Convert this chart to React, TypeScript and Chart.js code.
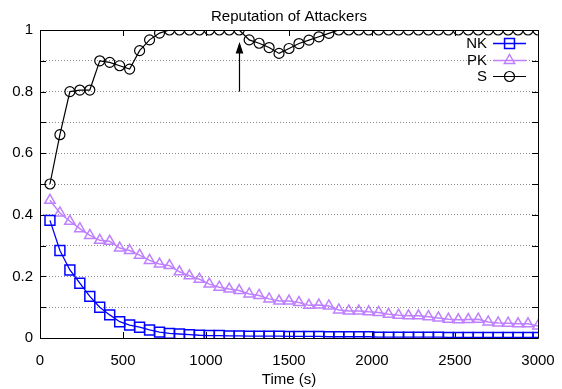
import React, { useEffect, useRef } from "react";
import { Chart, registerables } from "chart.js";

Chart.register(...registerables);

const times = [
  60, 120, 180, 240, 300, 360, 420, 480, 540, 600,
  660, 720, 780, 840, 900, 960, 1020, 1080, 1140, 1200,
  1260, 1320, 1380, 1440, 1500, 1560, 1620, 1680, 1740, 1800,
  1860, 1920, 1980, 2040, 2100, 2160, 2220, 2280, 2340, 2400,
  2460, 2520, 2580, 2640, 2700, 2760, 2820, 2880, 2940, 3000,
];

const nkValues = [
  0.382, 0.284, 0.221, 0.178, 0.135, 0.100, 0.075, 0.053, 0.042, 0.035,
  0.026, 0.019, 0.015, 0.013, 0.011, 0.009, 0.008, 0.008, 0.007, 0.007,
  0.006, 0.006, 0.006, 0.006, 0.005, 0.005, 0.005, 0.005, 0.004, 0.004,
  0.004, 0.004, 0.004, 0.003, 0.003, 0.003, 0.003, 0.003, 0.003, 0.003,
  0.002, 0.002, 0.002, 0.002, 0.002, 0.002, 0.002, 0.002, 0.002, 0.002,
];

const pkValues = [
  0.447, 0.406, 0.379, 0.355, 0.333, 0.317, 0.314, 0.292, 0.284, 0.269,
  0.252, 0.240, 0.235, 0.215, 0.202, 0.191, 0.175, 0.165, 0.159, 0.154,
  0.143, 0.138, 0.127, 0.120, 0.120, 0.115, 0.106, 0.107, 0.104, 0.091,
  0.088, 0.088, 0.085, 0.083, 0.077, 0.074, 0.072, 0.072, 0.069, 0.065,
  0.061, 0.059, 0.060, 0.061, 0.052, 0.049, 0.048, 0.046, 0.046, 0.039,
];

const sValues = [
  0.50, 0.66, 0.80, 0.805, 0.805, 0.90, 0.895, 0.884, 0.873, 0.933,
  0.968, 0.99, 1.0, 1.0, 1.0, 1.0, 1.0, 1.0, 1.0, 1.0,
  0.968, 0.957, 0.943, 0.924, 0.940, 0.956, 0.967, 0.978, 0.989, 1.0,
  1.0, 1.0, 1.0, 1.0, 1.0, 1.0, 1.0, 1.0, 1.0, 1.0,
  1.0, 1.0, 1.0, 1.0, 1.0, 1.0, 1.0, 1.0, 1.0, 1.0,
];

const seriesNames = ["NK", "PK", "S"];
const seriesColors = ["#0000ff", "#bf80ff", "#000000"];
const xTickValues = [0, 500, 1000, 1500, 2000, 2500, 3000];
const yTickLabels = ["0", "0.2", "0.4", "0.6", "0.8", "1"];
const titleText = "Reputation of Attackers";
const xAxisTitle = "Time (s)";
const arrowAt = { x: 1200, fromY: 0.8, toY: 0.955 };

const FONT = "'Liberation Sans', Arial, sans-serif";

function drawMarker(ctx: CanvasRenderingContext2D, style: string, x: number, y: number, r: number) {
  ctx.beginPath();
  if (style === "rect") {
    const s = Math.SQRT1_2 * r;
    ctx.rect(x - s, y - s, 2 * s, 2 * s);
  } else if (style === "triangle") {
    ctx.moveTo(x, y - r);
    ctx.lineTo(x + r * 0.866, y + r * 0.5);
    ctx.lineTo(x - r * 0.866, y + r * 0.5);
    ctx.closePath();
  } else {
    ctx.arc(x, y, r, 0, Math.PI * 2);
  }
  ctx.stroke();
}

const gnuplotPlugin = {
  id: "gnuplotDecor",
  beforeDatasetsDraw(chart: any) {
    const { ctx, chartArea } = chart;
    const { left, right, top, bottom } = chartArea;
    const xs = chart.scales.x;
    const ys = chart.scales.y;
    ctx.save();
    ctx.strokeStyle = "#000";
    ctx.lineWidth = 1;
    ctx.beginPath();
    ctx.rect(Math.round(left) + 0.5, Math.round(top) + 0.5, Math.round(right - left), Math.round(bottom - top));
    ctx.stroke();
    const tl = 6;
    ctx.beginPath();
    for (let i = 0; i <= 10; i++) {
      const y = Math.round(ys.getPixelForValue(i / 10)) + 0.5;
      ctx.moveTo(left, y);
      ctx.lineTo(left + tl, y);
      ctx.moveTo(right, y);
      ctx.lineTo(right - tl, y);
    }
    for (const v of xTickValues) {
      const x = Math.round(xs.getPixelForValue(v)) + 0.5;
      ctx.moveTo(x, bottom);
      ctx.lineTo(x, bottom - tl);
      ctx.moveTo(x, top);
      ctx.lineTo(x, top + tl);
    }
    ctx.stroke();
    ctx.restore();
  },
  afterDatasetsDraw(chart: any) {
    const { ctx, chartArea } = chart;
    const xs = chart.scales.x;
    const ys = chart.scales.y;
    ctx.save();
    // title
    ctx.fillStyle = "#000";
    ctx.font = `15px ${FONT}`;
    ctx.textAlign = "center";
    ctx.textBaseline = "alphabetic";
    ctx.fillText(titleText, (chartArea.left + chartArea.right) / 2, 21);
    // arrow
    const ax = Math.round(xs.getPixelForValue(arrowAt.x)) + 0.5;
    const ay1 = ys.getPixelForValue(arrowAt.fromY);
    const ay2 = ys.getPixelForValue(arrowAt.toY);
    ctx.strokeStyle = "#000";
    ctx.lineWidth = 1.2;
    ctx.beginPath();
    ctx.moveTo(ax, ay1);
    ctx.lineTo(ax, ay2);
    ctx.stroke();
    ctx.beginPath();
    ctx.moveTo(ax, ay2);
    ctx.lineTo(ax - 3, ay2 + 9);
    ctx.lineTo(ax + 3, ay2 + 9);
    ctx.closePath();
    ctx.fillStyle = "#000";
    ctx.fill();
    ctx.stroke();
    // legend
    const styles = ["rect", "triangle", "circle"];
    const radii = [7, 6, 5];
    const rowY = [43, 59.5, 76];
    const textRight = chartArea.right - 51;
    const lineStart = chartArea.right - 45;
    const lineEnd = chartArea.right - 12;
    ctx.font = `15px ${FONT}`;
    ctx.textAlign = "right";
    ctx.textBaseline = "middle";
    for (let i = 0; i < seriesNames.length; i++) {
      const y = rowY[i];
      ctx.fillStyle = "#000";
      ctx.fillText(seriesNames[i], textRight, y + 1);
      ctx.strokeStyle = seriesColors[i];
      ctx.lineWidth = i === 2 ? 1.2 : 1.5;
      ctx.beginPath();
      ctx.moveTo(lineStart, Math.round(y) + 0.5);
      ctx.lineTo(lineEnd, Math.round(y) + 0.5);
      ctx.stroke();
      drawMarker(ctx, styles[i], (lineStart + lineEnd) / 2, Math.round(y) + 0.5, radii[i]);
    }
    ctx.restore();
  },
};

export default function App() {
  const ref = useRef<HTMLCanvasElement | null>(null);
  useEffect(() => {
    document.body.style.margin = "0";
    if (!ref.current) return;
    const mk = (vals: number[]) => times.map((t, i) => ({ x: t, y: vals[i] }));
    const chart = new Chart(ref.current, {
      type: "line",
      data: {
        datasets: [
          {
            label: seriesNames[0],
            data: mk(nkValues),
            borderColor: seriesColors[0],
            backgroundColor: "transparent",
            borderWidth: 1.3,
            pointStyle: "rect",
            pointRadius: 7,
            pointBorderWidth: 1.5,
            pointBorderColor: seriesColors[0],
            pointBackgroundColor: "transparent",
            tension: 0,
          },
          {
            label: seriesNames[1],
            data: mk(pkValues),
            borderColor: seriesColors[1],
            backgroundColor: "transparent",
            borderWidth: 1.5,
            pointStyle: "triangle",
            pointRadius: 6,
            pointBorderWidth: 1.5,
            pointBorderColor: seriesColors[1],
            pointBackgroundColor: "transparent",
            tension: 0,
          },
          {
            label: seriesNames[2],
            data: mk(sValues),
            borderColor: seriesColors[2],
            backgroundColor: "transparent",
            borderWidth: 1.2,
            pointStyle: "circle",
            pointRadius: 5,
            pointBorderWidth: 1.2,
            pointBorderColor: seriesColors[2],
            pointBackgroundColor: "transparent",
            tension: 0,
          },
        ],
      },
      options: {
        animation: false,
        responsive: false,
        devicePixelRatio: 1,
        layout: { padding: { top: 30, right: 24, left: 0, bottom: 0 } },
        plugins: {
          legend: { display: false },
          title: { display: false },
          tooltip: { enabled: false },
        },
        scales: {
          x: {
            type: "linear",
            min: 0,
            max: 3000,
            afterFit: (s: any) => {
              s.height = 51;
              s.paddingLeft = 0;
              s.paddingRight = 0;
            },
            afterBuildTicks: (s: any) => {
              s.ticks = xTickValues.map((v) => ({ value: v }));
            },
            ticks: {
              padding: 14,
              color: "#000",
              font: { family: FONT, size: 15 },
              maxRotation: 0,
              autoSkip: false,
              callback: (v: any) => String(v),
            },
            grid: { display: false, drawTicks: false },
            border: { display: false },
            title: {
              display: true,
              text: xAxisTitle,
              color: "#000",
              font: { family: FONT, size: 15 },
              padding: { top: 0, bottom: 0 },
            },
          },
          y: {
            type: "linear",
            min: 0,
            max: 1,
            afterFit: (s: any) => {
              s.width = 40;
              s.paddingTop = 0;
              s.paddingBottom = 0;
            },
            ticks: {
              stepSize: 0.1,
              padding: 7,
              color: "#000",
              font: { family: FONT, size: 15 },
              autoSkip: false,
              callback: (v: any) => {
                const k = Math.round(Number(v) * 10);
                return k % 2 === 0 ? yTickLabels[k / 2] : "";
              },
            },
            grid: { color: "#8a8a8a", lineWidth: 1, drawTicks: false },
            border: { display: false, dash: [1, 2] },
          },
        },
      },
      plugins: [gnuplotPlugin],
    });
    return () => chart.destroy();
  }, []);
  return <canvas ref={ref} width={562} height={389} style={{ display: "block" }} />;
}
